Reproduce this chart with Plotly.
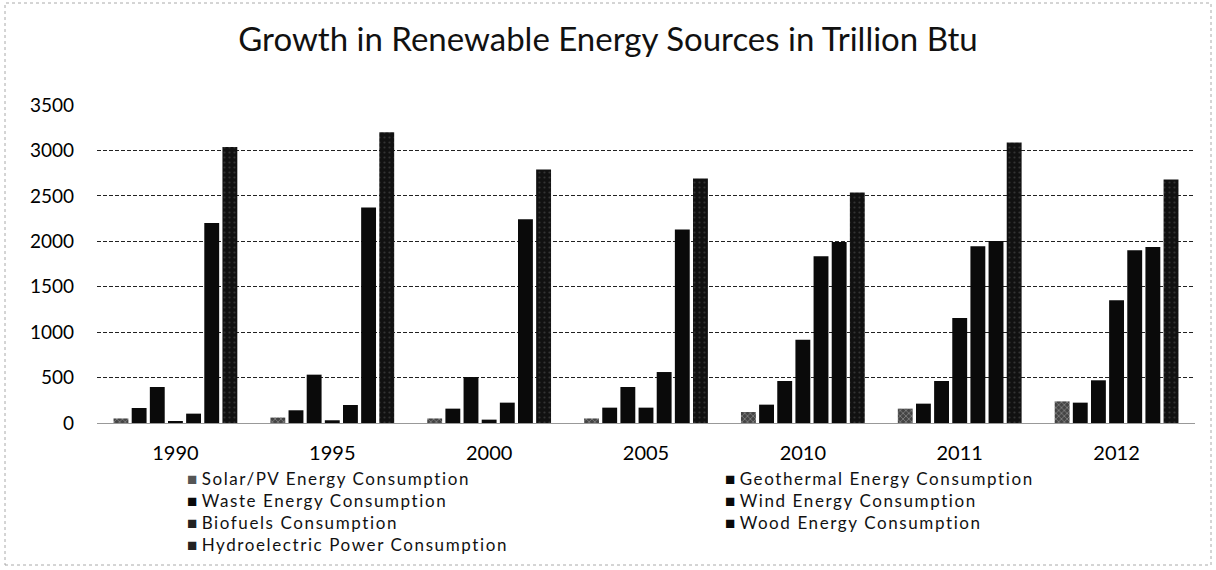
import plotly.graph_objects as go

years = ["1990", "1995", "2000", "2005", "2010", "2011", "2012"]
solar = [50, 60, 50, 50, 121, 158, 238]
geothermal = [165, 140, 158, 169, 202, 213, 224]
waste = [396, 532, 506, 396, 462, 462, 470]
wind = [22, 30, 37, 169, 917, 1156, 1350]
biofuels = [103, 198, 224, 561, 1835, 1945, 1901]
wood = [2202, 2371, 2242, 2129, 1993, 2004, 1938]
hydro = [3039, 3200, 2789, 2690, 2536, 3086, 2679]

names = ["Solar/PV Energy Consumption", "Geothermal Energy Consumption",
         "Waste Energy Consumption", "Wind Energy Consumption",
         "Biofuels Consumption", "Wood Energy Consumption",
         "Hydroelectric Power Consumption"]
values = [solar, geothermal, waste, wind, biofuels, wood, hydro]

solid = dict(color="#0a0a0a")
markers = [
    dict(color="#444", pattern=dict(shape="x", fgcolor="#ddd", size=4, solidity=0.3)),
    solid, solid, solid, solid, solid,
    dict(color="#111", pattern=dict(shape=".", fgcolor="#555", size=5, solidity=0.15)),
]
legend_marks = ["#555", "#0a0a0a", "#0a0a0a", "#0a0a0a", "#222", "#0a0a0a", "#222"]

font = "Lato, 'Open Sans', sans-serif"
W, H = 1216, 570
L, R, T, B = 97, 21, 105, 147
pw, ph = W - L - R, H - T - B

fig = go.Figure()
for name, vals, mk in zip(names, values, markers):
    fig.add_trace(go.Bar(x=years, y=vals, name=name, showlegend=False,
                         marker=dict(line=dict(width=0), **mk)))

# legend built as text: two columns, filled row by row
col_x = [185, 723]
col_lines = [[], []]
for i, (name, c) in enumerate(zip(names, legend_marks)):
    col_lines[i % 2].append(
        f"<span style='color:{c}'>■</span> "
        f"<span style='letter-spacing:1.6px'>{name}</span>")
annotations = []
for cx, lines in zip(col_x, col_lines):
    annotations.append(dict(
        xref="paper", yref="paper", x=(cx - L) / pw, y=(H - B - 466) / ph,
        xanchor="left", yanchor="top", align="left", showarrow=False,
        text="<br>".join(lines),
        font=dict(size=17, family=font, color="#111")))

fig.update_layout(
    width=W, height=H,
    margin=dict(l=L, r=R, t=T, b=B),
    paper_bgcolor="white", plot_bgcolor="white",
    barmode="group", bargap=0.19, bargroupgap=0.18,
    font=dict(family=font, color="#000", size=19),
    title=dict(text="Growth in Renewable Energy Sources in Trillion Btu",
               x=0.5, xanchor="center", y=0.93, yanchor="middle",
               font=dict(size=33, family=font, color="#111")),
    xaxis=dict(showgrid=False, showline=True, linecolor="#999", linewidth=1,
               ticks="", tickfont=dict(size=20), ticklabelstandoff=12),
    yaxis=dict(range=[0, 3500], dtick=500, showgrid=True, gridcolor="#222",
               griddash="4px,2px", gridwidth=1, zeroline=False, showline=False,
               tickfont=dict(size=19), ticklabelstandoff=22),
    annotations=annotations,
    shapes=[dict(type="rect", xref="paper", yref="paper",
                 x0=(5 - L) / pw, x1=(1211 - L) / pw,
                 y0=(H - B - 565) / ph, y1=(H - B - 3) / ph,
                 line=dict(color="#aaa", width=1, dash="dot"))],
)

fig.write_html("out.html")
